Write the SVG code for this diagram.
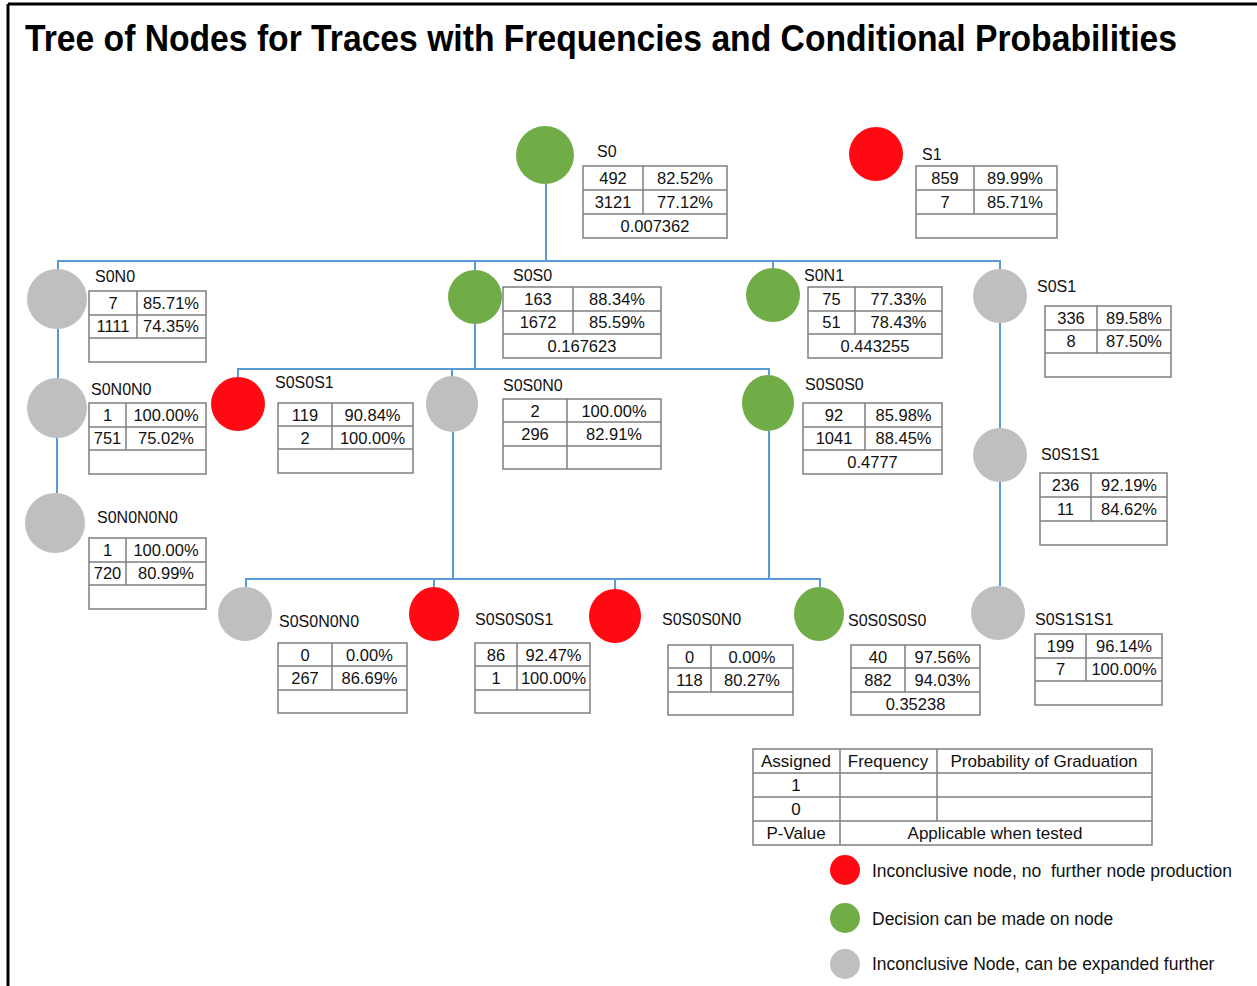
<svg xmlns="http://www.w3.org/2000/svg" width="1257" height="986" viewBox="0 0 1257 986">
  <style>
    text { font-family: "Liberation Sans", Arial, sans-serif; font-size: 16.5px; fill: #111; }
    .m { text-anchor: middle; }
    .lbl { font-size: 16px; }
    .title { font-family: "Liberation Sans", Arial, sans-serif; font-weight: bold; font-size: 33.5px; fill: #000; }
    .tb rect, .tb path { fill: none; stroke: #7f7f7f; stroke-width: 1.5; }
    .conn path { fill: none; stroke: #5b9bd5; stroke-width: 2; }
    .green { fill: #70ad47; }
    .red { fill: #ff0a12; }
    .gray { fill: #bfbfbf; }
    .leg { font-size: 17.5px; }
    .key { font-size: 17px; }
  </style>

  <rect x="0" y="0" width="1257" height="986" fill="#fff"/>
  <!-- frame -->
  <path d="M8 4H1257M8 4V986" fill="none" stroke="#000" stroke-width="3"/>

  <text class="title" transform="translate(25 51) scale(1 1.12)" x="0" y="0" textLength="1152" lengthAdjust="spacingAndGlyphs">Tree of Nodes for Traces with Frequencies and Conditional Probabilities</text>

  <!-- connectors -->
  <g id="connectors" class="conn">
    <path d="M546 184V261"/>
    <path d="M58 270V261H1000V269"/>
    <path d="M475 261V270"/>
    <path d="M773 261V268"/>
    <path d="M58 329V378"/>
    <path d="M57 438V493"/>
    <path d="M475 324V369"/>
    <path d="M238 377V369H769V375"/>
    <path d="M452 369V376"/>
    <path d="M453 432V579"/>
    <path d="M769 431V579"/>
    <path d="M246 587V579H820V587"/>
    <path d="M434 579V587"/>
    <path d="M615 579V589"/>
    <path d="M1000 323V428"/>
    <path d="M1000 482V586"/>
  </g>

  <g id="S0">
    <circle class="green" cx="545" cy="155" r="29"/>
    <text class="lbl" x="597" y="157">S0</text>
    <g class="tb"><rect x="583" y="166" width="144" height="72"/><path d="M583 190H727M583 214H727M643 166V214"/></g>
    <text class="m" x="613" y="184">492</text><text class="m" x="685" y="184">82.52%</text>
    <text class="m" x="613" y="208">3121</text><text class="m" x="685" y="208">77.12%</text>
    <text class="m" x="655" y="232">0.007362</text>
  </g>

  <g id="S1">
    <circle class="red" cx="876" cy="154" r="27"/>
    <text class="lbl" x="922" y="160">S1</text>
    <g class="tb"><rect x="916" y="166" width="141" height="72"/><path d="M916 190H1057M916 214H1057M974 166V214"/></g>
    <text class="m" x="945" y="184">859</text><text class="m" x="1015" y="184">89.99%</text>
    <text class="m" x="945" y="208">7</text><text class="m" x="1015" y="208">85.71%</text>
  </g>

  <g id="S0N0">
    <circle class="gray" cx="57" cy="299" r="30"/>
    <text class="lbl" x="95" y="282">S0N0</text>
    <g class="tb"><rect x="89" y="291" width="117" height="71"/><path d="M89 315H206M89 338H206M137 291V338"/></g>
    <text class="m" x="113" y="309">7</text><text class="m" x="171" y="309">85.71%</text>
    <text class="m" x="113" y="332">1111</text><text class="m" x="171" y="332">74.35%</text>
  </g>

  <g id="S0N0N0">
    <circle class="gray" cx="57" cy="408" r="30"/>
    <text class="lbl" x="91" y="395">S0N0N0</text>
    <g class="tb"><rect x="89" y="403" width="117" height="71"/><path d="M89 427H206M89 450H206M126 403V450"/></g>
    <text class="m" x="107.5" y="421">1</text><text class="m" x="166" y="421">100.00%</text>
    <text class="m" x="107.5" y="444">751</text><text class="m" x="166" y="444">75.02%</text>
  </g>

  <g id="S0N0N0N0">
    <circle class="gray" cx="55" cy="523" r="30"/>
    <text class="lbl" x="97" y="523">S0N0N0N0</text>
    <g class="tb"><rect x="89" y="538" width="117" height="71"/><path d="M89 562H206M89 585H206M126 538V585"/></g>
    <text class="m" x="107.5" y="556">1</text><text class="m" x="166" y="556">100.00%</text>
    <text class="m" x="107.5" y="579">720</text><text class="m" x="166" y="579">80.99%</text>
  </g>

  <g id="S0S0">
    <circle class="green" cx="475" cy="297" r="27"/>
    <text class="lbl" x="513" y="281">S0S0</text>
    <g class="tb"><rect x="503" y="287" width="158" height="71"/><path d="M503 311H661M503 334H661M573 287V334"/></g>
    <text class="m" x="538" y="305">163</text><text class="m" x="617" y="305">88.34%</text>
    <text class="m" x="538" y="328">1672</text><text class="m" x="617" y="328">85.59%</text>
    <text class="m" x="582" y="352">0.167623</text>
  </g>

  <g id="S0N1">
    <circle class="green" cx="773" cy="295" r="27"/>
    <text class="lbl" x="804" y="281">S0N1</text>
    <g class="tb"><rect x="808" y="287" width="134" height="71"/><path d="M808 311H942M808 334H942M855 287V334"/></g>
    <text class="m" x="831.5" y="305">75</text><text class="m" x="898.5" y="305">77.33%</text>
    <text class="m" x="831.5" y="328">51</text><text class="m" x="898.5" y="328">78.43%</text>
    <text class="m" x="875" y="352">0.443255</text>
  </g>

  <g id="S0S1">
    <circle class="gray" cx="1000" cy="296" r="27"/>
    <text class="lbl" x="1037" y="292">S0S1</text>
    <g class="tb"><rect x="1045" y="306" width="126" height="71"/><path d="M1045 330H1171M1045 353H1171M1097 306V353"/></g>
    <text class="m" x="1071" y="324">336</text><text class="m" x="1134" y="324">89.58%</text>
    <text class="m" x="1071" y="347">8</text><text class="m" x="1134" y="347">87.50%</text>
  </g>

  <g id="S0S0S1">
    <circle class="red" cx="238" cy="404" r="27"/>
    <text class="lbl" x="275" y="388">S0S0S1</text>
    <g class="tb"><rect x="278" y="403" width="135" height="70"/><path d="M278 426H413M278 449H413M332 403V449"/></g>
    <text class="m" x="305" y="421">119</text><text class="m" x="372.5" y="421">90.84%</text>
    <text class="m" x="305" y="444">2</text><text class="m" x="372.5" y="444">100.00%</text>
  </g>

  <g id="S0S0N0">
    <ellipse class="gray" cx="452" cy="404" rx="26" ry="28"/>
    <text class="lbl" x="503" y="391">S0S0N0</text>
    <g class="tb"><rect x="503" y="399" width="158" height="70"/><path d="M503 422H661M503 446H661M567 399V469"/></g>
    <text class="m" x="535" y="417">2</text><text class="m" x="614" y="417">100.00%</text>
    <text class="m" x="535" y="440">296</text><text class="m" x="614" y="440">82.91%</text>
  </g>

  <g id="S0S0S0">
    <ellipse class="green" cx="768" cy="403" rx="26" ry="28"/>
    <text class="lbl" x="805" y="390">S0S0S0</text>
    <g class="tb"><rect x="803" y="403" width="139" height="71"/><path d="M803 427H942M803 450H942M865 403V450"/></g>
    <text class="m" x="834" y="421">92</text><text class="m" x="903.5" y="421">85.98%</text>
    <text class="m" x="834" y="444">1041</text><text class="m" x="903.5" y="444">88.45%</text>
    <text class="m" x="872.5" y="468">0.4777</text>
  </g>

  <g id="S0S1S1">
    <circle class="gray" cx="1000" cy="455" r="27"/>
    <text class="lbl" x="1041" y="460">S0S1S1</text>
    <g class="tb"><rect x="1040" y="473" width="127" height="72"/><path d="M1040 497H1167M1040 521H1167M1091 473V521"/></g>
    <text class="m" x="1065.5" y="491">236</text><text class="m" x="1129" y="491">92.19%</text>
    <text class="m" x="1065.5" y="515">11</text><text class="m" x="1129" y="515">84.62%</text>
  </g>

  <g id="S0S0N0N0">
    <circle class="gray" cx="245" cy="614" r="27"/>
    <text class="lbl" x="279" y="627">S0S0N0N0</text>
    <g class="tb"><rect x="278" y="643" width="129" height="70"/><path d="M278 666H407M278 690H407M332 643V690"/></g>
    <text class="m" x="305" y="661">0</text><text class="m" x="369.5" y="661">0.00%</text>
    <text class="m" x="305" y="684">267</text><text class="m" x="369.5" y="684">86.69%</text>
  </g>

  <g id="S0S0S0S1">
    <ellipse class="red" cx="434" cy="614" rx="25" ry="27"/>
    <text class="lbl" x="475" y="625">S0S0S0S1</text>
    <g class="tb"><rect x="475" y="643" width="115" height="70"/><path d="M475 666H590M475 690H590M517 643V690"/></g>
    <text class="m" x="496" y="661">86</text><text class="m" x="553.5" y="661">92.47%</text>
    <text class="m" x="496" y="684">1</text><text class="m" x="553.5" y="684">100.00%</text>
  </g>

  <g id="S0S0S0N0">
    <ellipse class="red" cx="615" cy="616" rx="26" ry="27"/>
    <text class="lbl" x="662" y="625">S0S0S0N0</text>
    <g class="tb"><rect x="668" y="645" width="125" height="70"/><path d="M668 668H793M668 692H793M711 645V692"/></g>
    <text class="m" x="689.5" y="663">0</text><text class="m" x="752" y="663">0.00%</text>
    <text class="m" x="689.5" y="686">118</text><text class="m" x="752" y="686">80.27%</text>
  </g>

  <g id="S0S0S0S0">
    <ellipse class="green" cx="819" cy="614" rx="25" ry="27"/>
    <text class="lbl" x="848" y="626">S0S0S0S0</text>
    <g class="tb"><rect x="851" y="645" width="129" height="70"/><path d="M851 668H980M851 692H980M905 645V692"/></g>
    <text class="m" x="878" y="663">40</text><text class="m" x="942.5" y="663">97.56%</text>
    <text class="m" x="878" y="686">882</text><text class="m" x="942.5" y="686">94.03%</text>
    <text class="m" x="915.5" y="710">0.35238</text>
  </g>

  <g id="S0S1S1S1">
    <circle class="gray" cx="998" cy="613" r="27"/>
    <text class="lbl" x="1035" y="625">S0S1S1S1</text>
    <g class="tb"><rect x="1035" y="634" width="127" height="71"/><path d="M1035 658H1162M1035 681H1162M1086 634V681"/></g>
    <text class="m" x="1060.5" y="652">199</text><text class="m" x="1124" y="652">96.14%</text>
    <text class="m" x="1060.5" y="675">7</text><text class="m" x="1124" y="675">100.00%</text>
  </g>

  <!-- key table -->
  <g id="legend-table">
    <g class="tb"><rect x="753" y="749" width="399" height="96"/><path d="M753 773H1152M753 797H1152M753 821H1152M840 749V845M937 749V821"/></g>
    <text class="m key" x="796" y="767">Assigned</text>
    <text class="m key" x="888" y="767">Frequency</text>
    <text class="m key" x="1044" y="767">Probability of Graduation</text>
    <text class="m key" x="796" y="791">1</text>
    <text class="m key" x="796" y="815">0</text>
    <text class="m key" x="796" y="839">P-Value</text>
    <text class="m key" x="995" y="839">Applicable when tested</text>
  </g>

  <!-- colour key -->
  <g id="legend-key">
    <circle class="red" cx="845" cy="870" r="15"/>
    <text class="leg" x="872" y="877">Inconclusive node, no&#160; further node production</text>
    <circle class="green" cx="845" cy="918" r="15"/>
    <text class="leg" x="872" y="925">Decision can be made on node</text>
    <circle class="gray" cx="845" cy="964" r="15"/>
    <text class="leg" x="872" y="970">Inconclusive Node, can be expanded further</text>
  </g>
</svg>
